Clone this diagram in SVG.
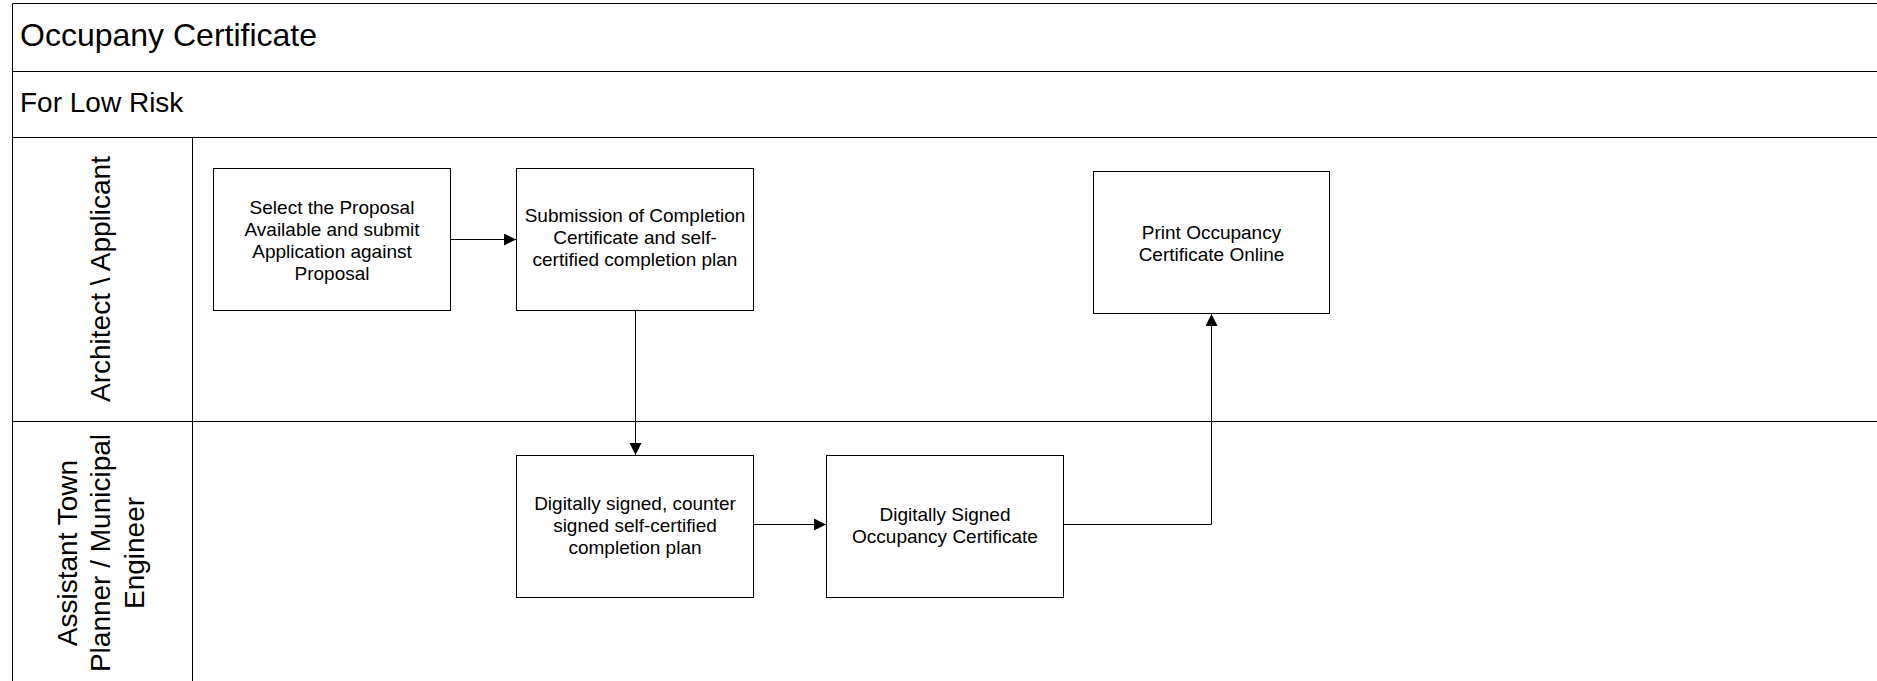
<svg xmlns="http://www.w3.org/2000/svg" width="1877" height="681" viewBox="0 0 1877 681">
<defs>
<style>
.frame{fill:none;stroke:#000;stroke-width:1}
.box{fill:#fff;stroke:#000;stroke-width:1}
.t{font-family:"Liberation Sans",Arial,sans-serif;fill:#000}
.nt{font-size:19px;text-anchor:middle}
.lane{font-size:28px;text-anchor:middle}
.conn{fill:none;stroke:#000;stroke-width:1}
</style>
<marker id="arr" markerUnits="userSpaceOnUse" markerWidth="13" markerHeight="13" refX="12" refY="6" orient="auto">
<path d="M0,0 L12,6 L0,12 z" fill="#000"/>
</marker>
</defs>
<rect width="1877" height="681" fill="#fff"/>
<g id="pool">
<path class="frame" d="M12.5 681 V3.5 H1877 M12.5 71.5 H1877 M12.5 137.5 H1877 M12.5 421.5 H1877 M192.5 137.5 V681"/>
<text class="t" x="20" y="46" font-size="32">Occupany Certificate</text>
<text class="t" x="20" y="112" font-size="28">For Low Risk</text>
</g>
<g id="lane-architect">
<text class="t lane" transform="translate(110,279) rotate(-90)">Architect \ Applicant</text>
</g>
<g id="lane-engineer">
<text class="t lane" transform="translate(76.5,553) rotate(-90)">Assistant Town</text>
<text class="t lane" transform="translate(110,553) rotate(-90)">Planner / Municipal</text>
<text class="t lane" transform="translate(143.5,553) rotate(-90)">Engineer</text>
</g>
<g id="connectors">
<path class="conn" d="M450.5 239.5 H516" marker-end="url(#arr)"/>
<path class="conn" d="M635.5 311 V455" marker-end="url(#arr)"/>
<path class="conn" d="M753 524.5 H826" marker-end="url(#arr)"/>
<path class="conn" d="M1063 524.5 H1211.5 V314" marker-end="url(#arr)"/>
</g>
<g id="n1">
<rect class="box" x="213.5" y="168.5" width="237" height="142"/>
<text class="t nt" x="332" y="213.5">Select the Proposal</text>
<text class="t nt" x="332" y="235.5">Available and submit</text>
<text class="t nt" x="332" y="257.5">Application against</text>
<text class="t nt" x="332" y="279.5">Proposal</text>
</g>
<g id="n2">
<rect class="box" x="516.5" y="168.5" width="237" height="142"/>
<text class="t nt" x="635" y="222">Submission of Completion</text>
<text class="t nt" x="635" y="244">Certificate and self-</text>
<text class="t nt" x="635" y="266">certified completion plan</text>
</g>
<g id="n3">
<rect class="box" x="1093.5" y="171.5" width="236" height="142"/>
<text class="t nt" x="1211.5" y="238.5">Print Occupancy</text>
<text class="t nt" x="1211.5" y="260.5">Certificate Online</text>
</g>
<g id="n4">
<rect class="box" x="516.5" y="455.5" width="237" height="142"/>
<text class="t nt" x="635" y="510">Digitally signed, counter</text>
<text class="t nt" x="635" y="532">signed self-certified</text>
<text class="t nt" x="635" y="554">completion plan</text>
</g>
<g id="n5">
<rect class="box" x="826.5" y="455.5" width="237" height="142"/>
<text class="t nt" x="945" y="520.5">Digitally Signed</text>
<text class="t nt" x="945" y="542.5">Occupancy Certificate</text>
</g>
</svg>
